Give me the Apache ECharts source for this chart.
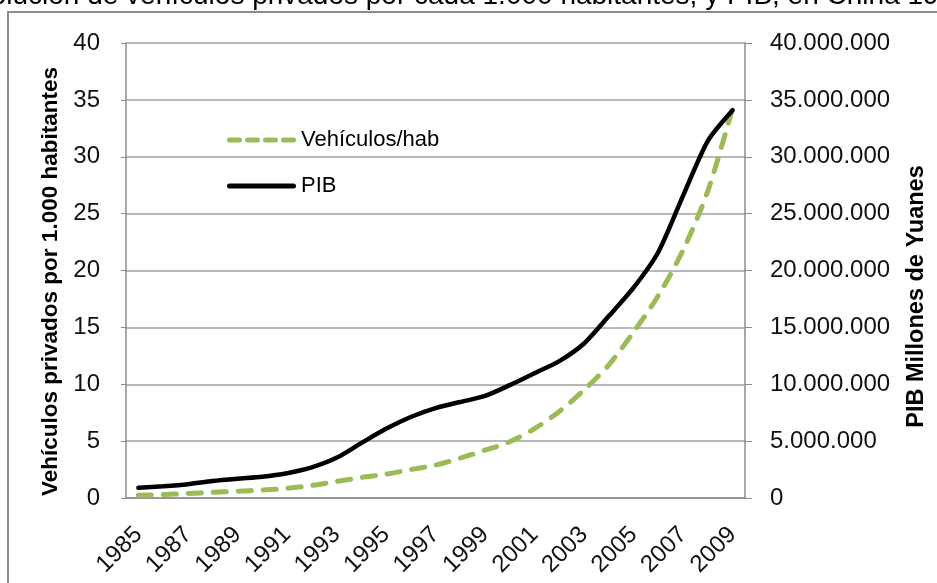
<!DOCTYPE html>
<html>
<head>
<meta charset="utf-8">
<script src="https://cdn.jsdelivr.net/npm/echarts@6/dist/echarts.min.js"></script>
<style>
html,body{margin:0;padding:0;background:#fff;}
#chart{width:937px;height:583px;}
</style>
</head>
<body>
<div id="chart"></div>
<script>
const years = ['1985','1986','1987','1988','1989','1990','1991','1992','1993','1994','1995','1996','1997','1998','1999','2000','2001','2002','2003','2004','2005','2006','2007','2008','2009'];
const vehiculosHab = [0.25,0.3,0.4,0.5,0.6,0.7,0.85,1.1,1.45,1.8,2.1,2.5,2.9,3.5,4.2,4.95,6.1,7.6,9.5,11.7,14.6,17.8,21.8,27.0,34.3];
const pib = [900000,1030000,1210000,1500000,1700000,1870000,2180000,2690000,3530000,4820000,6080000,7120000,7900000,8440000,8970000,9920000,10970000,12030000,13580000,15990000,18490000,21630000,26580000,31400000,34090000];
const seriesNames = ['Vehículos/hab','PIB'];
const leftAxisName = 'Vehículos privados por 1.000 habitantes';
const rightAxisName = 'PIB Millones de Yuanes';
const titleText = 'Evolución de vehículos privados por cada 1.000 habitantes, y PIB, en China 1985-2009';

const FONT = 'Liberation Sans';
function fmtDots(v){ return String(Math.round(v)).replace(/\B(?=(\d{3})+(?!\d))/g,'.'); }

const dashIcon = 'path://M2.5,0h10a2.5,2.5,0,0,1,0,5h-10a2.5,2.5,0,0,1,0,-5z M20.5,0h10a2.5,2.5,0,0,1,0,5h-10a2.5,2.5,0,0,1,0,-5z M38.5,0h10a2.5,2.5,0,0,1,0,5h-10a2.5,2.5,0,0,1,0,-5z M56.5,0h10a2.5,2.5,0,0,1,0,5h-10a2.5,2.5,0,0,1,0,-5z';
const solidIcon = 'path://M2.5,0h64a2.5,2.5,0,0,1,0,5h-64a2.5,2.5,0,0,1,0,-5z';

const chart = echarts.init(document.getElementById('chart'), null, {renderer:'canvas'});
chart.setOption({
  animation:false,
  backgroundColor:'#fff',
  textStyle:{fontFamily:FONT},
  graphic:[
    {type:'rect', shape:{x:8,y:12,width:1000,height:700}, style:{fill:'none',stroke:'#8c8c8c',lineWidth:2}, silent:true},
    {type:'text', x:-42, y:-4, style:{text:titleText, font:'28px "Liberation Sans"', fill:'#000', verticalAlign:'middle'}, silent:true}
  ],
  grid:{left:126,right:185,top:43,bottom:85,containLabel:false},
  legend:{
    orient:'vertical', left:222, top:124, itemWidth:69, itemHeight:5, itemGap:24,
    textStyle:{fontSize:22,color:'#000',fontFamily:FONT},
    data:[{name:seriesNames[0],icon:dashIcon,itemStyle:{color:'#9bbb59'}},{name:seriesNames[1],icon:solidIcon,itemStyle:{color:'#000'}}]
  },
  xAxis:{
    type:'category', data:years, boundaryGap:true,
    axisLine:{lineStyle:{color:'#8c8c8c',width:1.5}},
    axisTick:{show:false},
    axisLabel:{interval:1, rotate:45, fontSize:24, color:'#111', margin:33, fontFamily:FONT}
  },
  yAxis:[
    {type:'value', min:0, max:40, interval:5, position:'left',
     name:leftAxisName, nameLocation:'middle', nameGap:51, nameRotate:90,
     nameTextStyle:{fontSize:22.5,fontWeight:'bold',color:'#000',fontFamily:FONT,padding:[0,22,0,0]},
     axisLine:{show:true,lineStyle:{color:'#8c8c8c',width:1.5}},
     axisTick:{show:true,length:5,lineStyle:{color:'#8c8c8c'}},
     axisLabel:{fontSize:24,color:'#111',margin:26,fontFamily:FONT},
     splitLine:{show:true,lineStyle:{color:'#a0a0a0',width:1.5}}},
    {type:'value', min:0, max:40000000, interval:5000000, position:'right',
     name:rightAxisName, nameLocation:'middle', nameGap:160, nameRotate:90,
     nameTextStyle:{fontSize:23.5,fontWeight:'bold',color:'#000',fontFamily:FONT,padding:[0,52,0,0]},
     axisLine:{show:true,lineStyle:{color:'#8c8c8c',width:1.5}},
     axisTick:{show:true,length:7,lineStyle:{color:'#8c8c8c'}},
     axisLabel:{fontSize:24,color:'#111',margin:25,fontFamily:FONT,formatter:fmtDots},
     splitLine:{show:false}}
  ],
  series:[
    {name:seriesNames[0], type:'line', yAxisIndex:0, data:vehiculosHab, smooth:0.3,
     symbol:'none', color:'#9bbb59',
     lineStyle:{color:'#9bbb59',width:5,type:[13,12],cap:'round'}},
    {name:seriesNames[1], type:'line', yAxisIndex:1, data:pib, smooth:0.25,
     symbol:'none', color:'#000',
     lineStyle:{color:'#000',width:4.5,cap:'round'}}
  ]
});
</script>
</body>
</html>
